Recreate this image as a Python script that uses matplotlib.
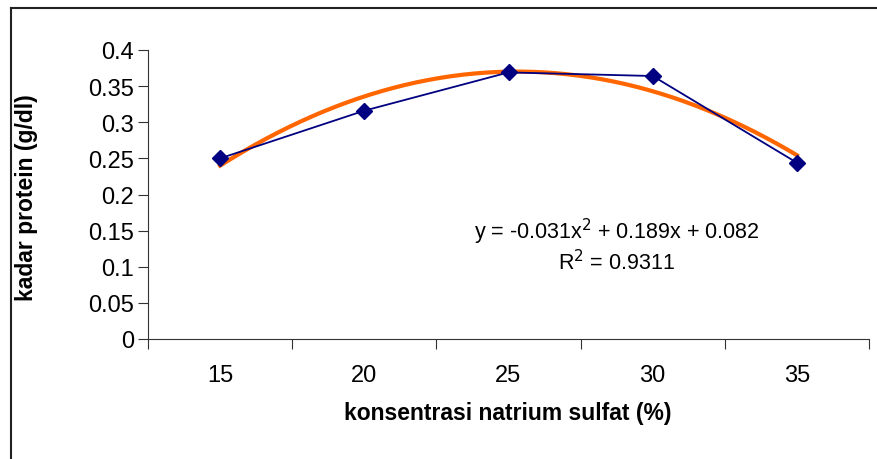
import numpy as np
import matplotlib.pyplot as plt
from matplotlib.lines import Line2D

plt.rcParams['font.family'] = ['Liberation Sans', 'DejaVu Sans']

konsentrasi = ["15", "20", "25", "30", "35"]
protein = [0.250, 0.316, 0.369, 0.364, 0.244]
yticks = [0, 0.05, 0.1, 0.15, 0.2, 0.25, 0.3, 0.35, 0.4]
ytick_labels = ["0", "0.05", "0.1", "0.15", "0.2", "0.25", "0.3", "0.35", "0.4"]

fig = plt.figure(figsize=(8.77, 4.6), dpi=100)
ax = fig.add_axes([148/877, 1-340/460, 721/877, 289/460])

pos = np.arange(1, len(protein)+1)
ax.plot(pos, protein, color="#000080", lw=1.3, marker="D", ms=8.5, zorder=3)

# trendline polinomial orde 2
c = np.polyfit(pos, protein, 2)
xs = np.linspace(1, 5, 200)
ax.plot(xs, np.polyval(c, xs), color="#FF6600", lw=3, zorder=2)

ax.set_xlim(0.5, 5.5)
ax.set_ylim(0, 0.4)
ax.set_xticks(np.arange(0.5, 6, 1))
ax.set_xticklabels([])
ax.set_xticks(pos, minor=True)
ax.set_xticklabels(konsentrasi, minor=True, fontsize=17)
ax.tick_params(axis="x", which="minor", length=0, pad=18)
ax.tick_params(axis="x", which="major", length=7, direction="out", color="#333333")
ax.set_yticks(yticks)
ax.set_yticklabels(ytick_labels, fontsize=17)
ax.tick_params(axis="y", length=7, direction="out", pad=3, color="#333333")

for s in ["top", "right"]:
    ax.spines[s].set_visible(False)
ax.spines["left"].set_color("#333333")
ax.spines["bottom"].set_color("#333333")

fig.text(27/877, 1-198/460, "kadar protein (g/dl)", rotation=90, ha="center", va="center",
         fontsize=16.5, fontweight="bold")
fig.text(508/877, 1-414/460, "konsentrasi natrium sulfat (%)", ha="center", va="center",
         fontsize=16.5, fontweight="bold")

ax.text(617/877, 1-232/460, "y = -0.031x$^2$ + 0.189x + 0.082", transform=fig.transFigure,
        ha="center", va="center", fontsize=15.5)
ax.text(617/877, 1-263/460, "R$^2$ = 0.9311", transform=fig.transFigure,
        ha="center", va="center", fontsize=15.5)

# bingkai chart
fig.add_artist(Line2D([11/877, 11/877], [0, 1-9/460], transform=fig.transFigure, color="#222222", lw=1.5))
fig.add_artist(Line2D([11/877, 1], [1-9/460, 1-9/460], transform=fig.transFigure, color="#222222", lw=1.5))

fig.savefig("out.png", dpi=100)
